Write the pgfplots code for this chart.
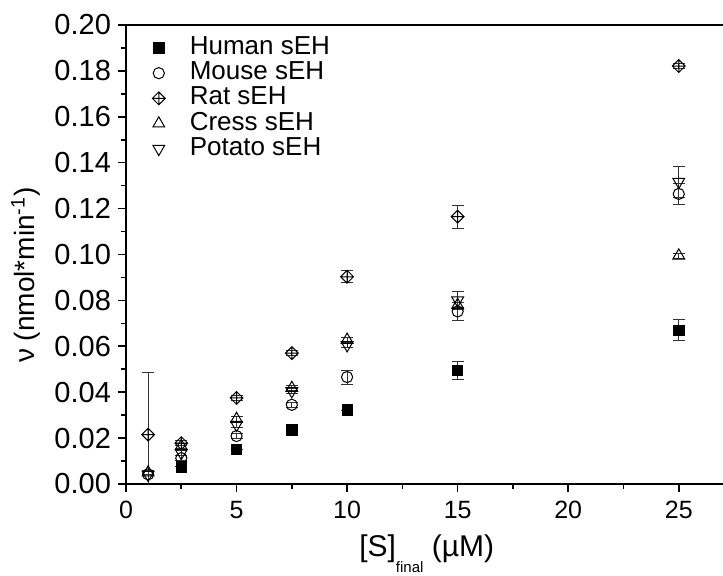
\documentclass[border=0pt]{standalone}
\usepackage{pgfplots}
\pgfplotsset{compat=1.18}
\usepackage{pgfplotstable}
\usepackage{fontspec}
\setmainfont{Liberation Sans}

\pgfdeclareplotmark{diamondplus}{%
  \pgfpathmoveto{\pgfqpoint{\pgfplotmarksize}{0pt}}%
  \pgfpathlineto{\pgfqpoint{0pt}{\pgfplotmarksize}}%
  \pgfpathlineto{\pgfqpoint{-\pgfplotmarksize}{0pt}}%
  \pgfpathlineto{\pgfqpoint{0pt}{-\pgfplotmarksize}}%
  \pgfpathclose
  \pgfpathmoveto{\pgfqpoint{-\pgfplotmarksize}{0pt}}%
  \pgfpathlineto{\pgfqpoint{\pgfplotmarksize}{0pt}}%
  \pgfpathmoveto{\pgfqpoint{0pt}{-\pgfplotmarksize}}%
  \pgfpathlineto{\pgfqpoint{0pt}{\pgfplotmarksize}}%
  \pgfusepathqstroke}

\pgfplotstableread{
x y e
2.5 0.0075 0
5 0.0151 0
7.5 0.0235 0
10 0.0322 0
15 0.0495 0.0040
25 0.0670 0.0045
}\human
\pgfplotstableread{
x y e
1 0.0042 0
2.5 0.0113 0.001
5 0.0209 0.001
7.5 0.0345 0.001
10 0.0466 0.0030
15 0.0752 0.0038
25 0.1264 0.0045
}\mouse
\pgfplotstableread{
x y e
1 0.0215 0.027
2.5 0.0178 0.001
5 0.0375 0.001
7.5 0.0570 0.001
10 0.0903 0.0026
15 0.1165 0.0050
25 0.1821 0.001
}\rat
\pgfplotstableread{
x y e
1 0.0050 0.001
2.5 0.0165 0.001
5 0.0283 0.001
7.5 0.0418 0.001
10 0.0628 0.001
15 0.0780 0.001
25 0.0995 0.001
}\cress
\pgfplotstableread{
x y e
1 0.0040 0
2.5 0.0135 0.001
5 0.0258 0.001
7.5 0.0405 0.001
10 0.0605 0.001
15 0.0800 0.0040
25 0.1317 0.0068
}\potato

\begin{document}
\begin{tikzpicture}
\begin{axis}[
  scale only axis,
  width=300.7pt, height=229.5pt,
  xmin=0, xmax=27.2, ymin=0, ymax=0.2,
  xtick={0,5,...,25}, minor x tick num=1,
  ytick={0,0.02,...,0.2}, minor y tick num=1,
  /pgf/number format/assume math mode=true,
  tick align=outside, xtick pos=bottom, ytick pos=left,
  major tick length=4pt, minor tick length=2.5pt,
  axis line style={line width=1pt},
  every tick/.style={line width=0.8pt, black},
  xticklabel style={font=\fontsize{12.5}{14}\selectfont, yshift=-1pt},
  yticklabel style={font=\fontsize{14.5}{16}\selectfont,
    /pgf/number format/fixed, /pgf/number format/fixed zerofill, /pgf/number format/precision=2},
  xlabel={[S]\raisebox{-8pt}{\fontsize{7.5}{8}\selectfont final} (µM)},
  ylabel={ν (nmol*min\textsuperscript{-1})},
  xlabel style={font=\fontsize{15}{17}\selectfont, yshift=-1pt},
  ylabel style={font=\fontsize{14}{16}\selectfont, at={(ticklabel cs:0.455)}, yshift=0pt},
  clip=true,
  legend style={draw=none, fill=none, at={(0,1)}, anchor=north west, xshift=10pt, yshift=-3pt,
    font=\fontsize{13}{13}\selectfont, row sep=0pt,
    nodes={text height=9.3pt, text depth=2.7pt, inner sep=0.3pt},
    /tikz/every odd column/.append style={column sep=12pt}},
  legend cell align=left,
  error bars/y dir=both, error bars/y explicit,
  error bars/error bar style={line width=0.4pt, black!80},
  error bars/error mark options={rotate=90, mark size=3pt, line width=0.4pt, black!80},
]
\addplot[only marks, mark=square*, mark size=2.6pt, black] table[x=x,y=y,y error=e]{\human};
\addlegendentry{Human sEH}
\addplot[only marks, mark=o, mark size=2.8pt, black, mark options={line width=0.5pt}] table[x=x,y=y,y error=e]{\mouse};
\addlegendentry{Mouse sEH}
\addplot[only marks, mark=diamondplus, mark size=3.2pt, black, mark options={line width=0.5pt}] table[x=x,y=y,y error=e]{\rat};
\addlegendentry{Rat sEH}
\addplot[only marks, mark=triangle, mark size=3.4pt, black, mark options={line width=0.5pt}] table[x=x,y=y,y error=e]{\cress};
\addlegendentry{Cress sEH}
\addplot[only marks, mark=triangle, mark size=3.4pt, black, mark options={line width=0.5pt, rotate=180}] table[x=x,y=y,y error=e]{\potato};
\addlegendentry{Potato sEH}
\end{axis}
\pgfresetboundingbox
\path[use as bounding box] ([shift={(-63pt,-46pt)}]current axis.south west) rectangle ([shift={(-2.2pt,12.5pt)}]current axis.north east);
\end{tikzpicture}
\end{document}
